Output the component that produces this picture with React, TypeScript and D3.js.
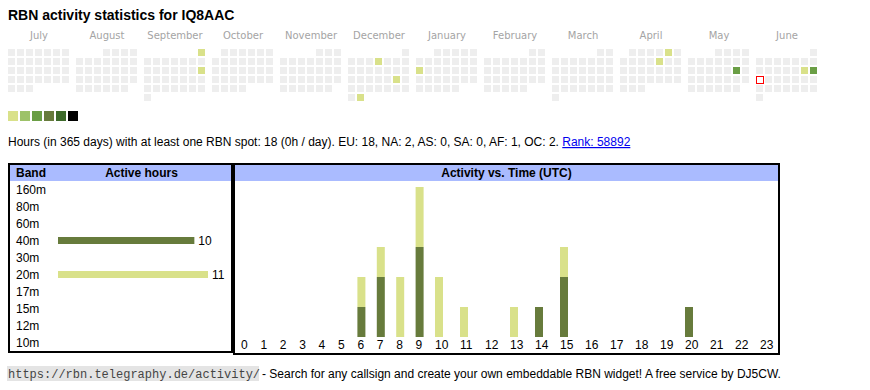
import React from "react";
import * as d3 from "d3";

// ---------- data ----------
const callsign = "IQ8AAC";
const monthStarts = ["2024-07-01", "2024-08-01", "2024-09-01", "2024-10-01", "2024-11-01", "2024-12-01", "2025-01-01", "2025-02-01", "2025-03-01", "2025-04-01", "2025-05-01", "2025-06-01"];
const activeDays = ["2024-09-01", "2024-09-15", "2024-12-05", "2024-12-21", "2024-12-31", "2025-01-13", "2025-04-05", "2025-04-11", "2025-05-17", "2025-06-14", "2025-06-15"];
const activeLevels = [1, 1, 1, 1, 1, 1, 1, 1, 3, 1, 3];
const today = "2025-06-16";
const legendColors = ["#d9e18a", "#9dc269", "#6a9e45", "#677b3c", "#3d6a2a", "#000000"];

const bands = ["160m", "80m", "60m", "40m", "30m", "20m", "17m", "15m", "12m", "10m"];
const bandHours = [0, 0, 0, 10, 0, 11, 0, 0, 0, 0];
const bandColors: Record<string, string> = { "40m": "#677b3c", "20m": "#d9e18a" };

const hourLabels = ["0", "1", "2", "3", "4", "5", "6", "7", "8", "9", "10", "11", "12", "13", "14", "15", "16", "17", "18", "19", "20", "21", "22", "23"];
const hours40m = [0, 0, 0, 0, 0, 0, 1, 2, 0, 3, 0, 0, 0, 0, 1, 2, 0, 0, 0, 0, 1, 0, 0, 0];
const hours20m = [0, 0, 0, 0, 0, 0, 1, 1, 2, 2, 2, 1, 0, 1, 0, 1, 0, 0, 0, 0, 0, 0, 0, 0];

const summaryText = "Hours (in 365 days) with at least one RBN spot: 18 (0h / day). EU: 18, NA: 2, AS: 0, SA: 0, AF: 1, OC: 2. ";
const rankText = "Rank: 58892";
const footerUrl = "https://rbn.telegraphy.de/activity/";
const footerText = "- Search for any callsign and create your own embeddable RBN widget! A free service by DJ5CW.";

// ---------- helpers ----------
const parse = d3.timeParse("%Y-%m-%d");
const fmt = d3.timeFormat("%Y-%m-%d");
const monthName = d3.timeFormat("%B");
const SANS = "'Liberation Sans', Arial, sans-serif";

export default function App() {
  // calendar
  const monthX = d3.scaleBand<number>().domain(d3.range(monthStarts.length)).range([8, 8 + 68 * monthStarts.length]);
  const cell = 9;
  const cellSize = 7;
  const calTop = 49;
  const levelByDay = new Map(activeDays.map((d, i) => [d, activeLevels[i]]));

  const cells: { key: string; x: number; y: number; fill: string; today: boolean }[] = [];
  monthStarts.forEach((ms, mi) => {
    const start = parse(ms)!;
    const end = d3.timeMonth.offset(start, 1);
    const firstWd = (start.getDay() + 6) % 7;
    d3.timeDays(start, end).forEach((day) => {
      const wd = (day.getDay() + 6) % 7;
      const week = Math.floor((day.getDate() - 1 + firstWd) / 7);
      const k = fmt(day);
      const lvl = levelByDay.get(k);
      cells.push({
        key: k,
        x: (monthX(mi) as number) + wd * cell,
        y: calTop + week * cell,
        fill: lvl ? legendColors[lvl - 1] : "#eeeeee",
        today: k === today,
      });
    });
  });

  // band table
  const rowY = d3.scalePoint<string>().domain(bands).range([189.3, 342.3]);
  const bandX = d3.scaleLinear().domain([0, d3.max(bandHours)!]).range([0, 150]);

  // hour chart
  const lefts: number[] = [];
  let acc = 241;
  hourLabels.forEach((l) => {
    lefts.push(acc);
    acc += l.length === 1 ? 19.4 : 25;
  });
  const hourX = d3.scaleOrdinal<string, number>().domain(hourLabels).range(lefts);
  const yScale = d3.scaleLinear().domain([0, 5]).range([337, 187]);
  const table = hourLabels.map((h, i) => ({ hour: h, "40m": hours40m[i], "20m": hours20m[i] }));
  const series = d3.stack<any>().keys(["40m", "20m"])(table);

  return (
    <svg width={870} height={390} style={{ position: "absolute", left: 0, top: 0, background: "#fff" }}>
      <text x={8} y={20} fontFamily={SANS} fontWeight="bold" fontSize={14} fill="#000">
        RBN activity statistics for {callsign}
      </text>

      {monthStarts.map((ms, mi) => (
        <text key={ms} x={(monthX(mi) as number) + 31} y={39} textAnchor="middle" fontFamily="'DejaVu Sans', sans-serif" fontSize={10} fill="#a4a4a4">
          {monthName(parse(ms)!)}
        </text>
      ))}

      {cells.map((c) =>
        c.today ? (
          <rect key={c.key} x={c.x + 0.5} y={c.y + 0.5} width={cellSize} height={cellSize} fill="#fff" stroke="#ff0000" strokeWidth={1} />
        ) : (
          <rect key={c.key} x={c.x} y={c.y} width={cellSize} height={cellSize} fill={c.fill} />
        )
      )}

      {legendColors.map((c, i) => (
        <rect key={c} x={8 + 12 * i} y={111} width={10} height={10} fill={c} />
      ))}

      <text x={8} y={146} fontFamily={SANS} fontSize={12} fill="#000">
        {summaryText}
        <tspan fill="#0000ee" textDecoration="underline" style={{ textDecoration: "underline" }}>{rankText}</tspan>
      </text>

      {/* Band table */}
      <rect x={10} y={165} width={221} height={16} fill="#aabbff" />
      <rect x={9} y={164} width={223} height={188} fill="none" stroke="#000" strokeWidth={2} />
      <text x={16} y={177} fontFamily={SANS} fontWeight="bold" fontSize={12}>Band</text>
      <text x={141.5} y={177} textAnchor="middle" fontFamily={SANS} fontWeight="bold" fontSize={12}>Active hours</text>
      {bands.map((b, i) => (
        <g key={b}>
          <text x={16} y={rowY(b)! + 4.3} fontFamily={SANS} fontSize={12}>{b}</text>
          {bandHours[i] > 0 && (
            <>
              <rect x={58} y={rowY(b)! - 3.3} width={bandX(bandHours[i])} height={7} fill={bandColors[b] || "#888"} />
              <text x={58 + bandX(bandHours[i]) + 4} y={rowY(b)! + 4.3} fontFamily={SANS} fontSize={12}>{bandHours[i]}</text>
            </>
          )}
        </g>
      ))}

      {/* Hour chart */}
      <rect x={235} y={165} width={543} height={16} fill="#aabbff" />
      <rect x={234} y={164} width={545} height={190} fill="none" stroke="#000" strokeWidth={2} />
      <text x={506.5} y={177} textAnchor="middle" fontFamily={SANS} fontWeight="bold" fontSize={12}>Activity vs. Time (UTC)</text>
      {series.map((s) => (
        <g key={s.key} fill={bandColors[s.key]}>
          {s.map((d: any, i: number) =>
            d[1] > d[0] ? (
              <rect key={i} x={hourX(hourLabels[i])} y={yScale(d[1])} width={8} height={yScale(d[0]) - yScale(d[1])} />
            ) : null
          )}
        </g>
      ))}
      {hourLabels.map((h) => (
        <text key={h} x={hourX(h)} y={348.5} fontFamily={SANS} fontSize={12}>{h}</text>
      ))}

      {/* Footer */}
      <rect x={7} y={366} width={252} height={15} fill="#e4e4e4" />
      <text x={8} y={377.5} fontFamily="'Liberation Mono', monospace" fontSize={12} fill="#444">{footerUrl}</text>
      <text x={262} y={378} fontFamily={SANS} fontSize={12} fill="#000">{footerText}</text>
    </svg>
  );
}
